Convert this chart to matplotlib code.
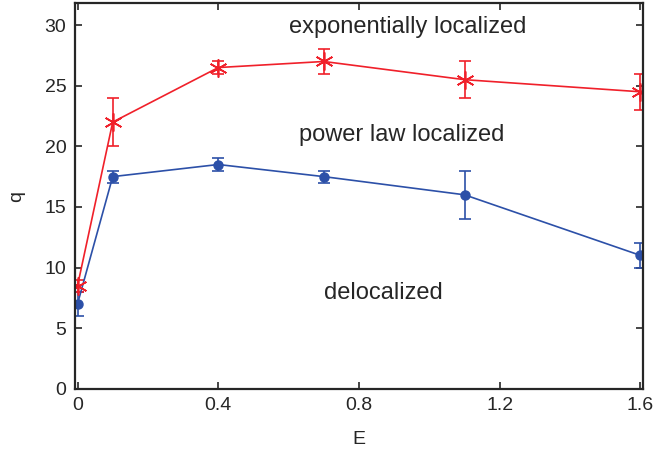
import numpy as np
import matplotlib
matplotlib.use('Agg')
import matplotlib.pyplot as plt

plt.rcParams['font.family'] = ['Liberation Sans', 'DejaVu Sans']

E = [0.0, 0.1, 0.4, 0.7, 1.1, 1.6]
q_exp = [8.5, 22.0, 26.5, 27.0, 25.5, 24.5]
q_exp_err = [0.5, 2.0, 0.5, 1.0, 1.5, 1.5]
q_pow = [7.0, 17.5, 18.5, 17.5, 16.0, 11.0]
q_pow_err = [1.0, 0.5, 0.5, 0.5, 2.0, 1.0]

red = '#f0202a'
blue = '#2c50a8'
dark = '#262626'

fig = plt.figure(figsize=(6.56, 4.54), dpi=100)
ax = fig.add_axes([0.1139, 0.1438, 0.8667, 0.8489])

ax.errorbar(E, q_pow, yerr=q_pow_err, color=blue, lw=1.2, marker='o', ms=6.5,
            capsize=4, elinewidth=1.2, capthick=1.2)
ax.errorbar(E, q_exp, yerr=q_exp_err, color=red, lw=1.2, marker=(6, 2, 0), ms=13,
            mew=1.2, capsize=4.5, elinewidth=1.2, capthick=1.2)

ax.text(0.938, 29.85, 'exponentially localized', ha='center', va='center', fontsize=17, color=dark)
ax.text(0.921, 20.9, 'power law localized', ha='center', va='center', fontsize=17, color=dark)
ax.text(0.869, 7.9, 'delocalized', ha='center', va='center', fontsize=17, color=dark)

ax.set_xlim(-0.008, 1.608)
ax.set_ylim(0, 31.8)
ax.set_xticks([0, 0.4, 0.8, 1.2, 1.6])
ax.set_xticklabels(['0', '0.4', '0.8', '1.2', '1.6'])
ax.set_yticks(np.arange(0, 31, 5))

ax.tick_params(direction='in', top=True, right=True, length=5, width=1.2,
               labelsize=14, colors=dark, pad=6)
for s in ax.spines.values():
    s.set_linewidth(1.6)
    s.set_color(dark)

ax.set_xlabel('E', fontsize=14, color=dark, labelpad=12)
ax.set_ylabel('q', fontsize=14, color=dark, labelpad=14)

fig.savefig('out.png', dpi=100)
